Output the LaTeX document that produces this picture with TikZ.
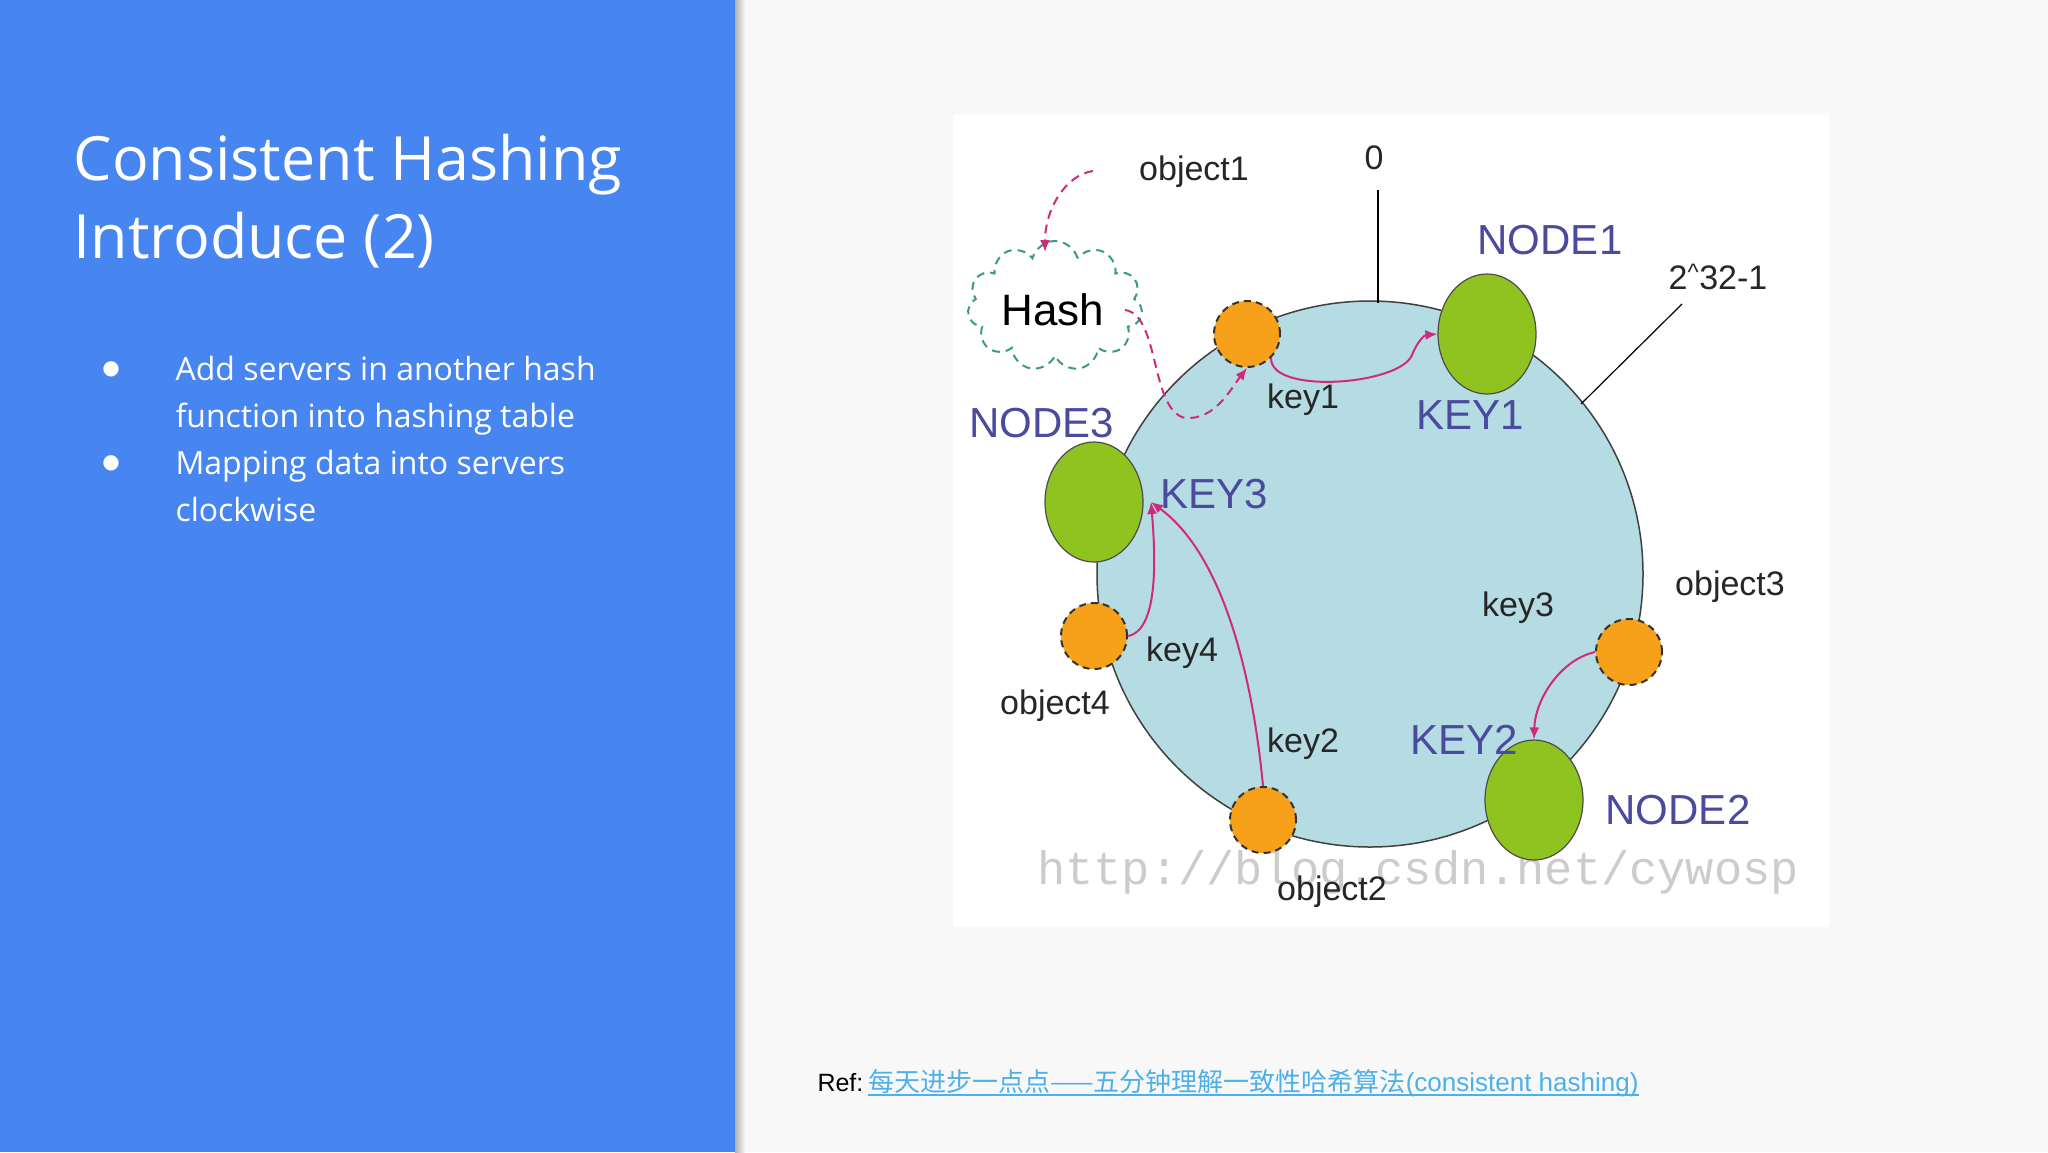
\documentclass[tikz,border=0pt]{standalone}
\usepackage{fontspec}
\setmainfont{Open Sans}
\newfontfamily\arialf{Liberation Sans}
\newfontfamily\cjkf{Noto Sans CJK SC}
\newfontfamily\wmf{Liberation Mono}
\newfontfamily\dejaf{DejaVu Sans}
\usetikzlibrary{shapes.symbols,shapes.geometric,arrows.meta}
\definecolor{panel}{HTML}{4786F0}
\definecolor{bgr}{HTML}{F8F8F9}
\definecolor{ring}{HTML}{B5DCE3}
\definecolor{srv}{HTML}{8FC31F}
\definecolor{obj}{HTML}{F7A11A}
\definecolor{lbl}{HTML}{4A4A9E}
\definecolor{mag}{HTML}{D02A7A}
\definecolor{teal}{HTML}{3A9A8A}
\definecolor{link}{HTML}{4DB0E8}
\tikzset{
 srvnode/.style={ellipse,draw=black!70,line width=1.2pt,fill=srv,minimum width=98pt,minimum height=120pt,inner sep=0},
 objnode/.style={circle,draw=black!80,dash pattern=on 7pt off 5pt,line width=2pt,fill=obj,minimum size=66pt,inner sep=0},
 lab/.style={font=\arialf\fontsize{34}{40}\selectfont,text=black!85},
 biglab/.style={font=\arialf\fontsize{42}{48}\selectfont,text=lbl},
 marr/.style={draw=mag,line width=2pt,-{Latex[length=12pt,width=10pt]}},
 mdash/.style={marr,dash pattern=on 9pt off 6pt},
}
\begin{document}
\begin{tikzpicture}[x=1pt,y=-1pt]
\useasboundingbox (0,0) rectangle (2048,1152);
\fill[bgr] (0,0) rectangle (2048,1152);
\fill[panel] (0,0) rectangle (735,1152);
\shade[left color=black!30,right color=bgr] (735,0) rectangle (745,1152);
\node[anchor=base west,text=white,font=\fontsize{61}{74}\selectfont] (title) at (70,180) {Consistent Hashing};
\node[anchor=base west,text=white,font=\fontsize{61}{74}\selectfont] (title2) at (70,258) {Introduce (2)};
\tikzset{btxt/.style={anchor=base west,text=white,font=\fontsize{32}{40}\selectfont}}
\node[btxt] (b1) at (172,380) {Add servers in another hash};
\node[btxt] (b1b) at (172,427) {function into hashing table};
\node[btxt] (b2) at (172,474) {Mapping data into servers};
\node[btxt] (b2b) at (172,521) {clockwise};
\node[text=white,font=\dejaf\fontsize{20}{24}\selectfont] (d1) at (111,369) {●};
\node[text=white,font=\dejaf\fontsize{20}{24}\selectfont] (d2) at (111,463) {●};
% image area
\fill[white] (953,115) rectangle (1829,927);
\node[circle,draw=black!75,line width=1.5pt,fill=ring,minimum size=546pt] (ring) at (1370,574) {};
\coordinate (z0) at (1378,190);
\coordinate (z1) at (1378,303);
\draw[line width=1.5pt] (z0) -- (z1);
\coordinate (m0) at (1682,304);
\coordinate (m1) at (1581,404);
\draw[line width=1.2pt] (m0) -- (m1);
\node[font=\wmf\fontsize{47}{50}\selectfont,text=black!20] (wm) at (1418,872) {http://blog.csdn.net/cywosp};
\node[srvnode] (n1) at (1487,334) {};
\node[srvnode] (n3) at (1094,502) {};
\node[srvnode] (n2) at (1534,800) {};
\node[objnode] (o1) at (1247,334) {};
\node[objnode] (o4) at (1094,636) {};
\node[objnode] (o2) at (1263,820) {};
\node[objnode] (o3) at (1629,652) {};
\node[cloud,draw=teal,dash pattern=on 8pt off 6pt,line width=2pt,cloud puffs=11,minimum width=175pt,minimum height=130pt,aspect=1.4] (hash) at (1055,306) {};
\node[font=\arialf\fontsize{44}{50}\selectfont] (hashl) at (1053,310) {Hash};
\node[lab] (lo1) at (1194,172) {object1};
\node[lab] (l0) at (1374,158) {0};
\node[biglab] (ln1) at (1550,240) {NODE1};
\node[lab] (lm) at (1718,277) {2\textsuperscript{\^{}}32-1};
\node[lab] (lk1) at (1303,400) {key1};
\node[biglab] (lK1) at (1470,415) {KEY1};
\node[biglab] (ln3) at (1042,423) {NODE3};
\node[biglab] (lK3) at (1214,494) {KEY3};
\node[lab] (lo3) at (1730,587) {object3};
\node[lab] (lk3) at (1518,608) {key3};
\node[lab] (lk4) at (1182,653) {key4};
\node[lab] (lo4) at (1055,706) {object4};
\node[lab] (lk2) at (1303,744) {key2};
\node[biglab] (lK2) at (1464,740) {KEY2};
\node[biglab] (ln2) at (1678,810) {NODE2};
\node[lab] (lo2) at (1332,892) {object2};
% arrows
\coordinate (a0) at (1093,171);
\coordinate (a1) at (1045,252);
\draw[mdash] (a0) .. controls (1065,175) and (1045,210) .. (a1);
\coordinate (h0) at (1125,310);
\coordinate (h1) at (1185,418);
\draw[mdash] (h0) .. controls (1160,315) and (1150,410) .. (h1) .. controls (1215,420) and (1230,390) .. (o1.south);
\draw[marr] (o1.south east) .. controls (1270,395) and (1400,385) .. (1412,355) .. controls (1418,340) and (1425,335) .. (n1.west);
\coordinate (k3) at (1151,502);
\draw[marr] (o4.east) .. controls (1160,630) and (1155,550) .. (k3);
\draw[marr] (o2.north) .. controls (1255,700) and (1230,560) .. (k3);
\draw[marr] (o3.west) .. controls (1560,660) and (1535,700) .. (n2.north);
% ref
\node[anchor=base west,font=\arialf\fontsize{25}{28}\selectfont] (ref) at (814,1091) {Ref:};
\node[anchor=base west,text=link,font=\arialf\fontsize{26}{30}\selectfont,inner sep=0] (lnk) at (868,1091) {{\cjkf 每天进步一点点——五分钟理解一致性哈希算法}(consistent hashing)};
\draw[link,line width=1.5pt] ([yshift=-4pt]lnk.base west) -- ([yshift=-4pt]lnk.base east);
\end{tikzpicture}
\end{document}
